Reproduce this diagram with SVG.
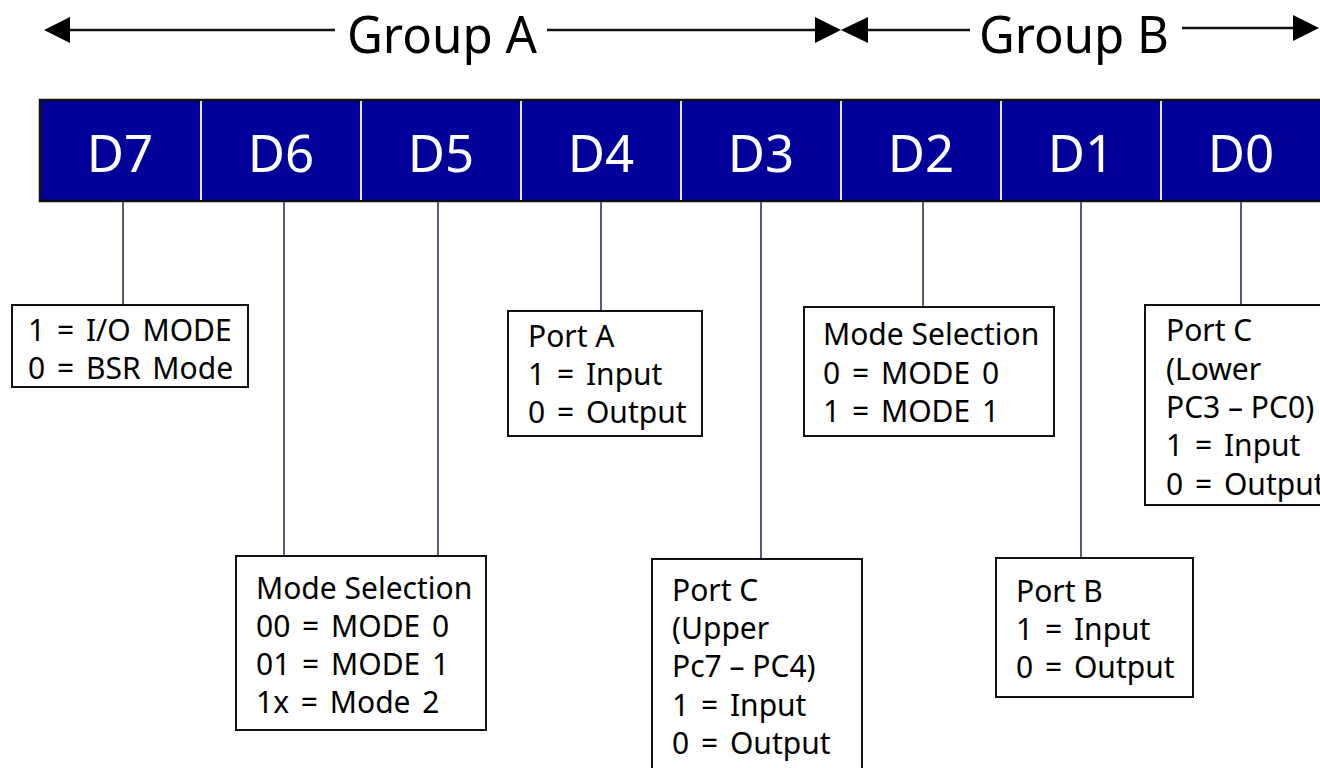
<svg xmlns="http://www.w3.org/2000/svg" width="1320" height="768" viewBox="0 0 1320 768">
<style>
.bg{fill:#ffffff}
.bar{fill:#000099;stroke:#111111;stroke-width:2.5}
.div{stroke:#e6e6f0;stroke-width:2}
.bit{font-family:"Noto Sans","DejaVu Sans",sans-serif;font-size:51px;fill:#ffffff;text-anchor:middle}
.grp{font-family:"Noto Sans","DejaVu Sans",sans-serif;font-size:51px;fill:#000000}
.box{fill:#ffffff;stroke:#111111;stroke-width:2}
.t{font-family:"Noto Sans","DejaVu Sans",sans-serif;font-size:30px;fill:#000000}
.eq{word-spacing:4px}
.con{stroke:#5a5a78;stroke-width:2;fill:none}
.ar{stroke:#111111;stroke-width:2.5;fill:none}
.ah{fill:#000000}
</style>
<rect class="bg" x="0" y="0" width="1320" height="768"/>
<g id="groups">
<line class="ar" x1="68" y1="30" x2="335" y2="30"/>
<polygon class="ah" points="44,30 70,17 70,43"/>
<text class="grp" x="347" y="53" textLength="190" lengthAdjust="spacingAndGlyphs">Group A</text>
<line class="ar" x1="547" y1="30" x2="817" y2="30"/>
<polygon class="ah" points="841,30 815,17 815,43"/>
<polygon class="ah" points="841,30 868,17 868,43"/>
<line class="ar" x1="866" y1="30" x2="970" y2="30"/>
<text class="grp" x="979" y="53" textLength="190" lengthAdjust="spacingAndGlyphs">Group B</text>
<line class="ar" x1="1182" y1="28" x2="1295" y2="28"/>
<polygon class="ah" points="1319,28 1293,15 1293,41"/>
</g>
<g id="register">
<rect class="bar" x="40" y="100" width="1300" height="101"/>
<line class="div" x1="201" y1="101" x2="201" y2="200"/>
<line class="div" x1="361" y1="101" x2="361" y2="200"/>
<line class="div" x1="521" y1="101" x2="521" y2="200"/>
<line class="div" x1="681" y1="101" x2="681" y2="200"/>
<line class="div" x1="841" y1="101" x2="841" y2="200"/>
<line class="div" x1="1001" y1="101" x2="1001" y2="200"/>
<line class="div" x1="1161" y1="101" x2="1161" y2="200"/>
<text class="bit" x="120" y="172">D7</text>
<text class="bit" x="281" y="172">D6</text>
<text class="bit" x="441" y="172">D5</text>
<text class="bit" x="601" y="172">D4</text>
<text class="bit" x="761" y="172">D3</text>
<text class="bit" x="921" y="172">D2</text>
<text class="bit" x="1081" y="172">D1</text>
<text class="bit" x="1241" y="172">D0</text>
</g>
<g id="connectors">
<line class="con" x1="123" y1="202" x2="123" y2="305"/>
<line class="con" x1="284" y1="202" x2="284" y2="556"/>
<line class="con" x1="438" y1="202" x2="438" y2="556"/>
<line class="con" x1="601" y1="202" x2="601" y2="311"/>
<line class="con" x1="761" y1="202" x2="761" y2="559"/>
<line class="con" x1="923" y1="202" x2="923" y2="307"/>
<line class="con" x1="1081" y1="202" x2="1081" y2="558"/>
<line class="con" x1="1241" y1="202" x2="1241" y2="305"/>
</g>
<g id="box-d7">
<rect class="box" x="12" y="305" width="236" height="82"/>
<text class="t eq" x="28" y="341">1 = I/O MODE</text>
<text class="t eq" x="28" y="379">0 = BSR Mode</text>
</g>
<g id="box-d6d5">
<rect class="box" x="236" y="556" width="250" height="174"/>
<text class="t" x="256" y="599">Mode Selection</text>
<text class="t eq" x="256" y="637">00 = MODE 0</text>
<text class="t eq" x="256" y="675">01 = MODE 1</text>
<text class="t eq" x="256" y="713">1x = Mode 2</text>
</g>
<g id="box-d4">
<rect class="box" x="508" y="311" width="194" height="125"/>
<text class="t" x="528" y="347">Port A</text>
<text class="t eq" x="528" y="385">1 = Input</text>
<text class="t eq" x="528" y="423">0 = Output</text>
</g>
<g id="box-d3">
<rect class="box" x="652" y="559" width="210" height="220"/>
<text class="t" x="672" y="601">Port C</text>
<text class="t" x="672" y="639">(Upper</text>
<text class="t" x="672" y="677">Pc7 – PC4)</text>
<text class="t eq" x="672" y="716">1 = Input</text>
<text class="t eq" x="672" y="754">0 = Output</text>
</g>
<g id="box-d2">
<rect class="box" x="804" y="307" width="250" height="129"/>
<text class="t" x="823" y="345">Mode Selection</text>
<text class="t eq" x="823" y="384">0 = MODE 0</text>
<text class="t eq" x="823" y="422">1 = MODE 1</text>
</g>
<g id="box-d1">
<rect class="box" x="996" y="558" width="197" height="139"/>
<text class="t" x="1016" y="602">Port B</text>
<text class="t eq" x="1016" y="640">1 = Input</text>
<text class="t eq" x="1016" y="678">0 = Output</text>
</g>
<g id="box-d0">
<rect class="box" x="1145" y="305" width="200" height="200"/>
<text class="t" x="1166" y="341">Port C</text>
<text class="t" x="1166" y="380">(Lower</text>
<text class="t" x="1166" y="418">PC3 – PC0)</text>
<text class="t eq" x="1166" y="456">1 = Input</text>
<text class="t eq" x="1166" y="495">0 = Output</text>
</g>
</svg>
